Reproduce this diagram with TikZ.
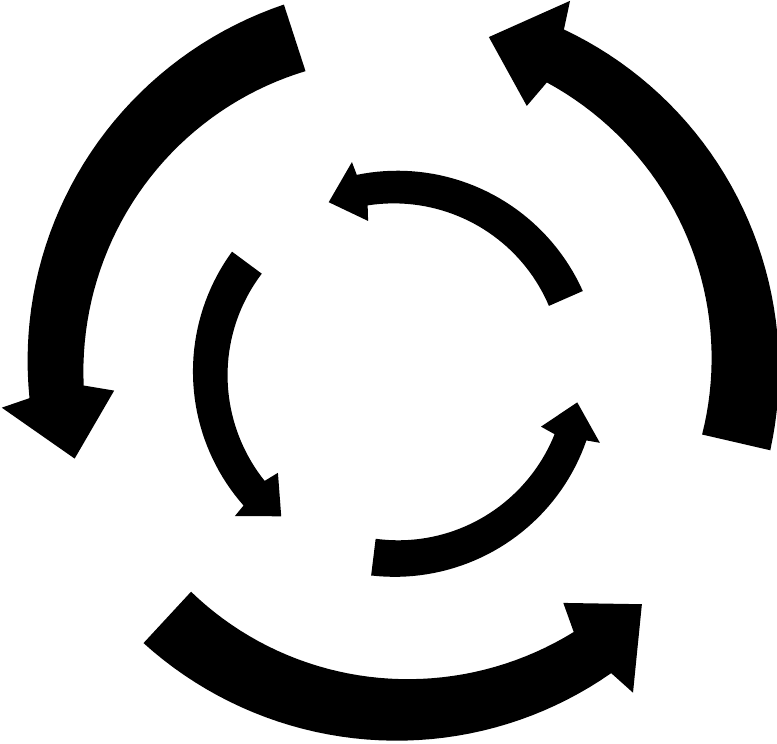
\documentclass[tikz,border=0pt]{standalone}
\usepackage{tikz}

\begin{document}
\begin{tikzpicture}[x=0.75pt,y=0.75pt,yscale=-1,xscale=1,
  arrowbody/.style={fill=black,draw=none}]
\useasboundingbox (0,0) rectangle (777,743);

%Outer ring, centre at (401,365)
\begin{scope}[shift={(401,365)},yscale=-1]
%Shape: Curved Arrow [top left]
\fill[arrowbody] (108:379) -- plot[domain=0:77.1,samples=40] ({108+\x}:{379-6*\x/77.1}) -- (186.1:401.5) -- (196:339.5) -- (185.1:288) -- (183.7:318) -- plot[domain=75.7:0,samples=40] ({108+\x}:{309+9*\x/75.7}) -- cycle;
%Shape: Curved Arrow [bottom]
\fill[arrowbody] (227.2:379) -- plot[domain=0:77.1,samples=40] ({227.2+\x}:{379-6*\x/77.1}) -- (305.3:401.5) -- (315.2:339.5) -- (304.3:288) -- (302.9:318) -- plot[domain=75.7:0,samples=40] ({227.2+\x}:{309+9*\x/75.7}) -- cycle;
%Shape: Curved Arrow [right]
\fill[arrowbody] (347:379) -- plot[domain=0:77.1,samples=40] ({347+\x}:{379-6*\x/77.1}) -- (425.1:401.5) -- (435:339.5) -- (424.1:288) -- (422.7:318) -- plot[domain=75.7:0,samples=40] ({347+\x}:{309+9*\x/75.7}) -- cycle;
\end{scope}

%Inner ring, centre at (396,373)
\begin{scope}[shift={(396,373)},yscale=-1]
%Shape: Curved Arrow [top]
\fill[arrowbody] (23.7:204) -- plot[domain=0:77.5,samples=40] ({23.7+\x}:{204-2*\x/77.5}) -- (101.8:215.5) -- (111.5:183.6) -- (100.4:154.6) -- (99.6:170) -- plot[domain=75.9:0,samples=40] ({23.7+\x}:{167+3*\x/75.9}) -- cycle;
%Shape: Curved Arrow [left]
\fill[arrowbody] (143.5:204) -- plot[domain=0:77.5,samples=40] ({143.5+\x}:{204-2*\x/77.5}) -- (221.6:215.5) -- (231.3:183.6) -- (220.2:154.6) -- (219.4:170) -- plot[domain=75.9:0,samples=40] ({143.5+\x}:{167+3*\x/75.9}) -- cycle;
%Shape: Curved Arrow [bottom right]
\fill[arrowbody] (263:204) -- plot[domain=0:77.5,samples=40] ({263+\x}:{204-2*\x/77.5}) -- (341.1:215.5) -- (350.8:183.6) -- (339.7:154.6) -- (338.9:170) -- plot[domain=75.9:0,samples=40] ({263+\x}:{167+3*\x/75.9}) -- cycle;
\end{scope}

\end{tikzpicture}
\end{document}
